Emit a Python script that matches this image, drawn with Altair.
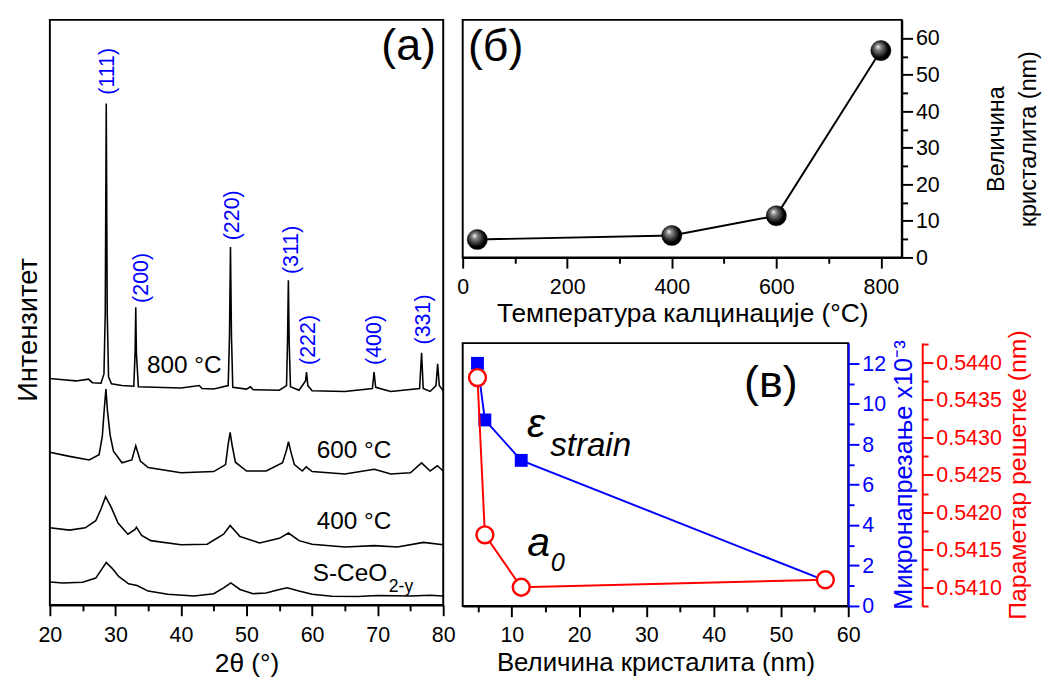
import altair as alt
import pandas as pd

FONT = "Liberation Sans"
BLUE = "#0000ff"
RED = "#ff0000"

# ---------------- Panel (a): XRD patterns ----------------
s_tt = [20, 22, 25, 27, 28, 28.6, 29.5, 30.5, 32, 33.3, 35, 38, 42, 45, 46.5, 47.6, 49, 51, 53, 55, 56.2, 58, 60, 63, 67, 70, 75, 78, 80]
s_I = [3.94, 3.77, 3.88, 4.60, 6.27, 7.27, 6.27, 4.88, 3.61, 3.33, 2.38, 1.83, 1.55, 1.94, 2.94, 3.77, 2.66, 1.94, 2.05, 2.66, 2.94, 2.38, 1.83, 1.50, 1.44, 1.61, 1.55, 1.66, 1.55]

t4_tt = [20, 23, 25.4, 27.0, 27.8, 28.5, 29.4, 30.4, 31.9, 33.0, 33.2, 34.0, 35.4, 40, 44, 46.5, 47.5, 49, 52, 55, 56.4, 58, 60, 65, 69.5, 73, 77, 80]
t4_I = [13.2, 12.8, 13.2, 14.4, 16.4, 18.5, 16.6, 14.0, 12.1, 12.9, 13.3, 11.9, 11.0, 10.3, 10.4, 12.1, 13.6, 11.7, 10.6, 11.4, 12.3, 11.0, 10.4, 9.9, 10.15, 9.9, 10.7, 10.3]

t6_tt = [20, 23, 26, 27.5, 28.0, 28.3, 28.55, 28.8, 29.2, 29.7, 31, 32.5, 33.1, 33.8, 35, 40, 45, 46.8, 47.2, 47.5, 47.8, 48.3, 50, 53, 55.5, 56.1, 56.4, 56.8, 57.3, 58.5, 59.1, 60, 65, 69.5, 72, 75, 76.7, 78, 79.1, 80]
t6_I = [26.1, 25.4, 24.8, 25.7, 28.8, 33.5, 36.9, 33.0, 29.0, 26.3, 24.3, 24.8, 27.2, 24.6, 23.5, 22.6, 22.8, 24.0, 27.5, 29.5, 27.3, 24.4, 22.9, 22.9, 24.3, 26.5, 27.9, 26.0, 24.0, 22.9, 23.6, 22.8, 22.4, 23.2, 22.4, 22.6, 24.3, 22.9, 23.8, 22.9]

t8_tt = [20, 22, 24, 25.9, 26.5, 27.8, 28.25, 28.45, 28.6, 28.75, 28.95, 29.4, 31, 32.8, 33.0, 33.1, 33.2, 33.5, 36, 40, 42.8, 43.2, 45, 47.2, 47.4, 47.55, 47.7, 47.9, 50, 50.6, 51, 55, 56.1, 56.25, 56.38, 56.5, 56.7, 58, 59.0, 59.15, 59.35, 60, 65, 69.2, 69.45, 69.7, 72, 76.4, 76.7, 76.95, 78, 78.9, 79.15, 79.4, 80]
t8_I = [38.7, 38.5, 38.3, 38.6, 38.0, 37.9, 39.5, 50.0, 85.7, 50.0, 39.0, 37.8, 37.5, 37.4, 43.0, 50.9, 43.0, 37.3, 37.2, 37.1, 37.5, 37.0, 36.9, 37.5, 46.0, 61.2, 46.0, 37.2, 36.9, 37.3, 36.8, 36.7, 37.5, 45.0, 55.5, 45.0, 37.3, 36.7, 38.3, 39.8, 37.5, 36.6, 36.5, 37.0, 39.8, 37.2, 36.5, 37.0, 43.1, 37.0, 36.5, 37.5, 41.2, 37.5, 36.6]

hkl_text = ["(111)", "(200)", "(220)", "(311)", "(222)", "(400)", "(331)"]
hkl_x = [28.8, 33.9, 47.8, 56.8, 59.35, 69.4, 76.9]
hkl_y = [91.2, 55.9, 66.6, 60.7, 45.3, 45.3, 48.8]

temp_text = ["800 °C", "600 °C", "400 °C"]
temp_x = [40.5, 66.4, 66.4]
temp_y = [40.9, 26.5, 14.3]

rows = []
for name, xs, ys in [("S", s_tt, s_I), ("400", t4_tt, t4_I), ("600", t6_tt, t6_I), ("800", t8_tt, t8_I)]:
    for a, b in zip(xs, ys):
        rows.append({"series": name, "tt": a, "I": b})
xrd = pd.DataFrame(rows)

x_a = alt.X("tt:Q", scale=alt.Scale(domain=[20, 80], nice=False, zero=False),
            axis=alt.Axis(values=list(range(20, 81, 5)),
                          labelExpr="datum.value % 10 === 0 ? datum.label : ''",
                          tickSize={"condition": {"test": "datum.value % 10 !== 0", "value": 6}, "value": 11},
                          labelPadding=9, title="2θ (°)", titleFontSize=27, titlePadding=6, grid=False))
y_a = alt.Y("I:Q", scale=alt.Scale(domain=[0, 100], nice=False, zero=False),
            axis=alt.Axis(labels=False, ticks=False, domain=False, title="Интензитет",
                          titleFontSize=28, titlePadding=8, titleY=318, grid=False))

lines_a = alt.Chart(xrd).mark_line(color="black", strokeWidth=1.6).encode(
    x=x_a, y=y_a, detail="series:N", order="tt:Q")

hkl_df = pd.DataFrame({"t": hkl_text, "tt": hkl_x, "I": hkl_y})
hkl = alt.Chart(hkl_df).mark_text(color=BLUE, fontSize=22, angle=270, align="center",
                                  baseline="middle").encode(x=x_a, y=y_a, text="t:N")

temp_df = pd.DataFrame({"t": temp_text, "tt": temp_x, "I": temp_y})
temps = alt.Chart(temp_df).mark_text(color="black", fontSize=25, align="center",
                                     baseline="middle").encode(x=x_a, y=y_a, text="t:N")

sce_df = pd.DataFrame({"t": ["S-CeO"], "tt": [60.1], "I": [5.5]})
sce = alt.Chart(sce_df).mark_text(color="black", fontSize=25, align="left",
                                  baseline="middle").encode(x=x_a, y=y_a, text="t:N")
sub_df = pd.DataFrame({"t": ["2-y"], "tt": [71.7], "I": [3.1]})
sub = alt.Chart(sub_df).mark_text(color="black", fontSize=18, align="left",
                                  baseline="middle").encode(x=x_a, y=y_a, text="t:N")

lab_a_df = pd.DataFrame({"t": ["(a)"], "tt": [78.9], "I": [95.5]})
lab_a = alt.Chart(lab_a_df).mark_text(color="black", fontSize=46, align="right",
                                      baseline="middle").encode(x=x_a, y=y_a, text="t:N")

panel_a = alt.layer(lines_a, hkl, temps, sce, sub, lab_a).properties(width=404, height=601)

# ---------------- Panel (б): crystallite size vs temperature ----------------
temperature = [28, 400, 600, 800]
size_nm = [4.9, 6.0, 11.4, 56.6]
b_df = pd.DataFrame({"T": temperature, "D": size_nm})

x_b = alt.X("T:Q", scale=alt.Scale(domain=[0, 840], nice=False, zero=False),
            axis=alt.Axis(values=list(range(0, 801, 100)),
                          labelExpr="datum.value % 200 === 0 ? datum.label : ''",
                          tickSize={"condition": {"test": "datum.value % 200 !== 0", "value": 6}, "value": 11},
                          labelPadding=9, title="Температура калцинације (°C)", titleFontSize=27,
                          titlePadding=4, grid=False))
y_b = alt.Y("D:Q", scale=alt.Scale(domain=[0, 65], nice=False, zero=False),
            axis=alt.Axis(orient="right", values=list(range(0, 61, 5)),
                          labelExpr="datum.value % 10 === 0 ? datum.label : ''",
                          tickSize={"condition": {"test": "datum.value % 10 !== 0", "value": 6}, "value": 11},
                          labelPadding=3, title=["Величина", "кристалита (nm)"], titleAngle=270,
                          titleBaseline="top", titleLineHeight=33, titlePadding=14, grid=False))

sphere = alt.RadialGradient(
    gradient="radial", x1=0.35, y1=0.3, r1=0.0, x2=0.45, y2=0.45, r2=0.6,
    stops=[alt.GradientStop(color="#ffffff", offset=0.0),
           alt.GradientStop(color="#8a8a8a", offset=0.22),
           alt.GradientStop(color="#000000", offset=0.75)])

line_b = alt.Chart(b_df).mark_line(color="black", strokeWidth=2).encode(x=x_b, y=y_b)
pts_b = alt.Chart(b_df).mark_point(filled=True, fill=sphere, size=430, shape="circle",
                                   stroke="black", strokeWidth=0.5, opacity=1).encode(x=x_b, y=y_b)
lab_b_df = pd.DataFrame({"t": ["(б)"], "T": [10.0], "D": [57.5]})
lab_b = alt.Chart(lab_b_df).mark_text(color="black", fontSize=46, align="left",
                                      baseline="middle").encode(x=x_b, y=y_b, text="t:N")
panel_b = alt.layer(line_b, pts_b, lab_b).properties(width=451, height=244)

# ---------------- Panel (в): microstrain and lattice parameter ----------------
strain = [12.0, 9.2, 7.2, 1.25]
lattice = [0.5438, 0.5417, 0.5410, 0.5411]
c_df = pd.DataFrame({"D": size_nm, "e": strain, "a": lattice})

x_c = alt.X("D:Q", scale=alt.Scale(domain=[2.7, 60], nice=False, zero=False),
            axis=alt.Axis(values=list(range(5, 61, 5)),
                          labelExpr="datum.value % 10 === 0 ? datum.label : ''",
                          tickSize={"condition": {"test": "datum.value % 10 !== 0", "value": 6}, "value": 11},
                          labelPadding=9, title="Величина кристалита (nm)", titleFontSize=26.5,
                          titlePadding=4, grid=False))
y_e = alt.Y("e:Q", scale=alt.Scale(domain=[0, 13], nice=False, zero=False),
            axis=alt.Axis(orient="right", values=list(range(0, 13, 1)),
                          labelExpr="datum.value % 2 === 0 ? datum.label : ''",
                          tickSize={"condition": {"test": "datum.value % 2 !== 0", "value": 6}, "value": 11},
                          labelPadding=3, domainColor=BLUE, tickColor=BLUE, labelColor=BLUE,
                          titleColor=BLUE, title="Микронапрезање x10⁻³", titleAngle=270,
                          titleFontSize=26, titleBaseline="top", titlePadding=5, grid=False))
red_vals = [round(0.54075 + i * 0.00025, 5) for i in range(15)]
y_r = alt.Y("a:Q", scale=alt.Scale(domain=[0.54075, 0.54426], nice=False, zero=False),
            axis=alt.Axis(orient="right", offset=76, values=red_vals, format=".4f",
                          labelExpr="abs(datum.value*2000 - round(datum.value*2000)) < 0.1 ? datum.label : ''",
                          tickSize={"condition": {"test": "abs(datum.value*2000 - round(datum.value*2000)) > 0.1", "value": 6}, "value": 11},
                          labelPadding=3, domainColor=RED, tickColor=RED, labelColor=RED,
                          titleColor=RED, title="Параметар решетке (nm)", titleAngle=270,
                          titleFontSize=25.5, titleBaseline="top", titlePadding=5, grid=False))

line_e = alt.Chart(c_df).mark_line(color=BLUE, strokeWidth=2).encode(x=x_c, y=y_e)
pts_e = alt.Chart(c_df).mark_point(filled=True, shape="square", size=175, color=BLUE,
                                   opacity=1).encode(x=x_c, y=y_e)

ann_df = pd.DataFrame({"t": ["ε", "strain", "a", "0", "(в)"],
                       "D": [13.6, 15.7, 14.0, 15.8, 48.5],
                       "e": [9.0, 7.9, 3.1, 2.1, 11.0]})
ann_big = alt.Chart(ann_df.iloc[[0, 2]]).mark_text(color="black", fontSize=42, fontStyle="italic",
                                                   align="center", baseline="middle").encode(x=x_c, y=y_e, text="t:N")
ann_strain = alt.Chart(ann_df.iloc[[1]]).mark_text(color="black", fontSize=34, fontStyle="italic",
                                                   align="left", baseline="middle").encode(x=x_c, y=y_e, text="t:N")
ann_sub = alt.Chart(ann_df.iloc[[3]]).mark_text(color="black", fontSize=26, fontStyle="italic",
                                                align="left", baseline="middle").encode(x=x_c, y=y_e, text="t:N")
ann_lab = alt.Chart(ann_df.iloc[[4]]).mark_text(color="black", fontSize=46,
                                                align="center", baseline="middle").encode(x=x_c, y=y_e, text="t:N")

blue_part = alt.layer(line_e, pts_e, ann_big, ann_strain, ann_sub, ann_lab)

line_r = alt.Chart(c_df).mark_line(color=RED, strokeWidth=2).encode(x=x_c, y=y_r)
pts_r = alt.Chart(c_df).mark_point(filled=True, fill="white", shape="circle", size=300, stroke=RED,
                                   strokeWidth=2.5, opacity=1).encode(x=x_c, y=y_r)
red_part = alt.layer(line_r, pts_r)

panel_c = alt.layer(blue_part, red_part).resolve_scale(y="independent").properties(width=396, height=270)

right = alt.vconcat(panel_b, panel_c, spacing=88, bounds="flush")
chart = alt.hconcat(panel_a, right, spacing=20, bounds="flush").properties(
    padding={"left": 6, "top": 2, "right": 0, "bottom": 0}
).configure_view(stroke="black", strokeWidth=2).configure_axis(
    labelFont=FONT, titleFont=FONT, labelFontSize=22, titleFontSize=24,
    titleFontWeight="normal", labelColor="black", titleColor="black",
    domainColor="black", tickColor="black", domainWidth=2, tickWidth=2,
    labelFlush=False
).configure_text(font=FONT)

chart.save("out.html", embed_options={"renderer": "svg", "actions": False})
